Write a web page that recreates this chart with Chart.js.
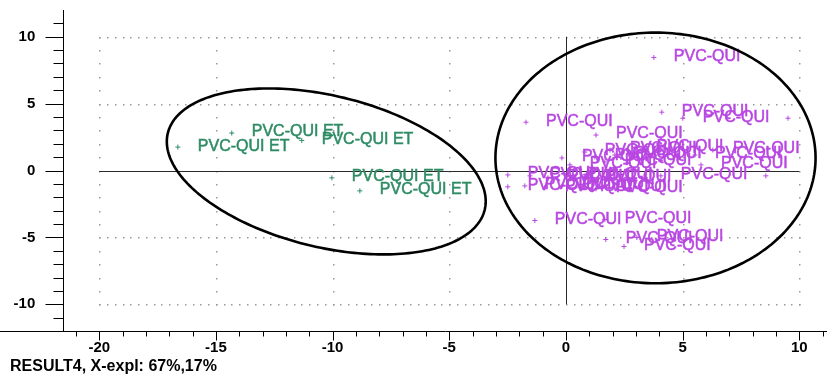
<!DOCTYPE html>
<html>
<head>
<meta charset="utf-8">
<script src="https://cdn.jsdelivr.net/npm/chart.js@4.4.1/dist/chart.umd.min.js"></script>
<style>
  html, body { margin: 0; padding: 0; background: #fff; }
  #wrap { width: 827px; height: 378px; }
</style>
</head>
<body>
<div id="wrap"><canvas id="scores"></canvas></div>
<script>
// Axis tick values
const xTicks = [-20, -15, -10, -5, 0, 5, 10];
const yTicks = [-10, -5, 0, 5, 10];

// Group "PVC-QUI ET" scores (PC1, PC2)
const etX = [-16.63, -14.32, -11.32, -10.03, -8.83];
const etY = [1.75, 2.80, 2.25, -0.55, -1.52];
const etLabels = ['PVC-QUI ET', 'PVC-QUI ET', 'PVC-QUI ET', 'PVC-QUI ET', 'PVC-QUI ET'];

// Group "PVC-QUI" scores (PC1, PC2)
const quiX = [3.77, 4.11, 5.01, 9.52, -1.71, 1.29, -0.17, 0.81, 1.89, 3.04,
              1.24, 0.17, 5.53, 6.30, 5.79, 4.07, 8.57, -2.49, -2.49, -1.54,
              -0.77, 0.00, 0.81, -1.76, -0.90, -0.17, 0.60, 1.29, -1.33, 1.67,
              1.71, 3.04, 2.49, 1.67, 2.10];
const quiY = [8.45, 4.36, 3.91, 3.91, 3.61, 2.65, 0.94, 1.38, 1.53, 1.75,
              1.01, 0.42, 1.16, 1.53, 0.42, -0.40, -0.40, -0.33, -1.22, -0.40,
              -0.55, -0.40, -0.55, -1.15, -1.29, -1.15, -1.29, -1.37, -3.74, -3.67,
              -5.16, -5.01, -5.68, 0.64, 1.16];
const quiLabels = quiX.map(() => 'PVC-QUI');

const titleText = 'RESULT4, X-expl: 67%,17%';

// Group outlines in data units: centre plus two conjugate semi-axis vectors
const groupRings = [
  { cx: -10.27, cy: -0.07, ux: 6.79, uy: -2.87, vx: -0.77, vy: -5.50 },
  { cx: 3.84, cy: 0.94, ux: 6.86, uy: 0, vx: 0, vy: 9.37 }
];

const GREEN = 'rgb(46,140,100)';
const VIOLET = 'rgb(184,70,226)';
const FONT = '"Liberation Sans", Arial, sans-serif';

const toPoints = (xs, ys) => xs.map((v, i) => ({ x: v, y: ys[i] }));

const plotDecor = {
  id: 'plotDecor',
  beforeDatasetsDraw(chart) {
    const { ctx, scales: { x, y } } = chart;
    ctx.save();
    // dotted reference grid
    ctx.fillStyle = '#9a9a9a';
    yTicks.filter(v => v !== 0).forEach(v => {
      const py = Math.round(y.getPixelForValue(v));
      for (let t = -20; t <= 10.0001; t += 1 / 3) {
        ctx.fillRect(Math.round(x.getPixelForValue(t)), py, 1.5, 1.5);
      }
    });
    xTicks.filter(v => v !== 0).forEach(v => {
      const px = Math.round(x.getPixelForValue(v));
      for (let t = -10; t <= 10; t++) {
        ctx.fillRect(px, Math.round(y.getPixelForValue(t)), 1.5, 1.5);
      }
    });
    // origin cross lines
    ctx.strokeStyle = '#2a2a2a';
    ctx.lineWidth = 1;
    const zy = Math.round(y.getPixelForValue(0)) + 0.5;
    const zx = Math.round(x.getPixelForValue(0)) + 0.5;
    ctx.beginPath();
    ctx.moveTo(x.getPixelForValue(-20), zy);
    ctx.lineTo(x.getPixelForValue(10), zy);
    ctx.moveTo(zx, y.getPixelForValue(10));
    ctx.lineTo(zx, y.getPixelForValue(-10));
    ctx.stroke();
    ctx.restore();
  },
  afterDatasetsDraw(chart) {
    const { ctx, chartArea: a, scales: { x, y } } = chart;
    ctx.save();
    // point names
    ctx.font = '16px ' + FONT;
    ctx.textAlign = 'left';
    ctx.textBaseline = 'middle';
    ctx.lineWidth = 0.5;
    chart.data.datasets.forEach((ds, di) => {
      const meta = chart.getDatasetMeta(di);
      ctx.fillStyle = ds.borderColor;
      ctx.strokeStyle = ds.borderColor;
      meta.data.forEach((pt, i) => {
        const text = ds.pointNames[i];
        const tx = pt.x + 20;
        if (tx + ctx.measureText(text).width > a.right) return;
        ctx.fillText(text, tx, pt.y - 1);
        ctx.strokeText(text, tx, pt.y - 1);
      });
    });
    // group outlines
    ctx.strokeStyle = '#000';
    ctx.lineWidth = 2.6;
    groupRings.forEach(r => {
      ctx.beginPath();
      for (let k = 0; k <= 240; k++) {
        const t = k / 240 * Math.PI * 2;
        const dx = r.cx + r.ux * Math.cos(t) + r.vx * Math.sin(t);
        const dy = r.cy + r.uy * Math.cos(t) + r.vy * Math.sin(t);
        const px = x.getPixelForValue(dx), py = y.getPixelForValue(dy);
        if (k === 0) ctx.moveTo(px, py); else ctx.lineTo(px, py);
      }
      ctx.closePath();
      ctx.stroke();
    });
    ctx.restore();
  },
  afterDraw(chart) {
    const { ctx, chartArea: a, scales: { x, y } } = chart;
    ctx.save();
    ctx.strokeStyle = '#000';
    ctx.lineWidth = 1;
    ctx.beginPath();
    const left = Math.round(a.left) + 0.5;
    const bottom = Math.round(a.bottom) + 0.5;
    for (let v = -11; v <= 11; v++) {
      const py = Math.round(y.getPixelForValue(v)) + 0.5;
      const len = v % 5 === 0 ? 18 : 10;
      ctx.moveTo(left - len, py);
      ctx.lineTo(left, py);
    }
    for (let v = -21; v <= 11; v++) {
      const px = Math.round(x.getPixelForValue(v)) + 0.5;
      const len = v % 5 === 0 ? 9 : 5;
      ctx.moveTo(px, bottom);
      ctx.lineTo(px, bottom + len);
    }
    // x axis continues to the left edge
    ctx.moveTo(0, bottom);
    ctx.lineTo(a.left, bottom);
    ctx.stroke();
    ctx.restore();
  }
};

new Chart(document.getElementById('scores'), {
  type: 'scatter',
  data: {
    datasets: [
      {
        label: 'PVC-QUI ET',
        data: toPoints(etX, etY),
        pointNames: etLabels,
        pointStyle: 'cross',
        pointRadius: 2.5,
        borderWidth: 1,
        borderColor: GREEN,
        backgroundColor: GREEN
      },
      {
        label: 'PVC-QUI',
        data: toPoints(quiX, quiY),
        pointNames: quiLabels,
        pointStyle: 'cross',
        pointRadius: 2.5,
        borderWidth: 1,
        borderColor: VIOLET,
        backgroundColor: VIOLET
      }
    ]
  },
  options: {
    responsive: true,
    maintainAspectRatio: false,
    animation: false,
    events: [],
    layout: { autoPadding: false, padding: { left: 10, top: 10, right: 0, bottom: 0 } },
    plugins: {
      legend: { display: false },
      tooltip: { enabled: false },
      title: {
        display: true,
        text: titleText,
        position: 'bottom',
        align: 'start',
        color: '#000',
        font: { family: FONT, size: 16, weight: 'bold', lineHeight: 1.2 },
        padding: { top: 0, bottom: 1.5 }
      }
    },
    scales: {
      x: {
        type: 'linear',
        min: -21.54,
        max: 11.19,
        afterBuildTicks: s => { s.ticks = xTicks.map(v => ({ value: v })); },
        afterFit: s => { s.height = 26.3; s.paddingLeft = 0; s.paddingRight = 0; },
        grid: { display: false, drawTicks: false },
        border: { display: true, color: '#000', width: 1 },
        ticks: {
          padding: 8,
          color: '#000',
          maxRotation: 0,
          autoSkip: false,
          font: { family: FONT, size: 15, weight: 'bold' }
        }
      },
      y: {
        type: 'linear',
        min: -12,
        max: 12,
        afterBuildTicks: s => { s.ticks = yTicks.map(v => ({ value: v })); },
        afterFit: s => { s.width = 53.3; s.paddingTop = 0; s.paddingBottom = 0; },
        grid: { display: false, drawTicks: false },
        border: { display: true, color: '#000', width: 1 },
        ticks: {
          padding: 28,
          color: '#000',
          autoSkip: false,
          font: { family: FONT, size: 15, weight: 'bold' }
        }
      }
    }
  },
  plugins: [plotDecor]
});
</script>
</body>
</html>
